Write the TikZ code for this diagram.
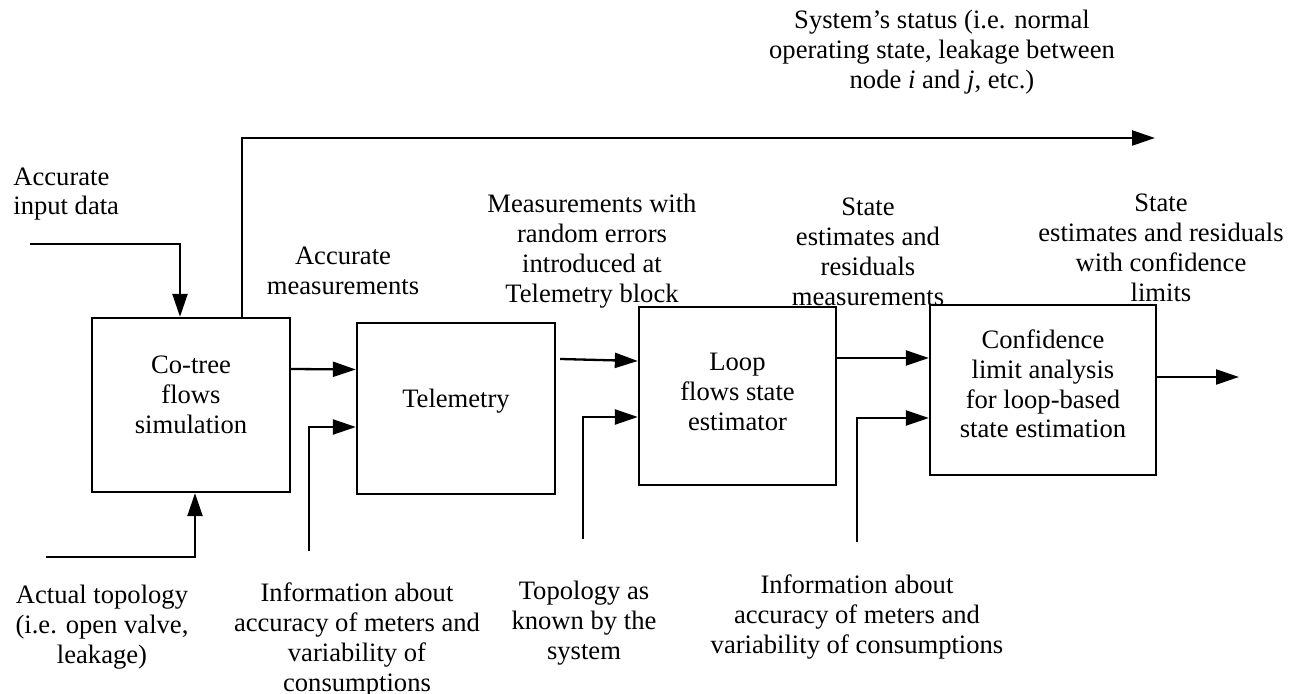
\documentclass[tikz,border=0pt]{standalone}
\usepackage{fontspec}
\setmainfont{Liberation Serif}
\usetikzlibrary{arrows.meta}

\begin{document}
\begin{tikzpicture}[
    x=0.5pt, y=-0.5pt,
    font=\fontsize{13.3}{14.9}\selectfont,
    block/.style={rectangle, draw, line width=1.15pt, inner sep=0pt},
    flow/.style={-{Triangle[length=11.5pt,width=7.5pt]}, line width=1.15pt},
    lbl/.style={align=center, inner sep=0pt}
]
\useasboundingbox (0,0) rectangle (1298,694);

% processing blocks
\node[block, minimum width=99pt, minimum height=87pt] (cotree) at (191,405) {};
\node[block, minimum width=99pt, minimum height=85.5pt] (telemetry) at (456,408.5) {};
\node[block, minimum width=98.5pt, minimum height=89pt] (loop) at (737.5,396) {};
\node[block, minimum width=113pt, minimum height=85pt] (conf) at (1043,390) {};

% block titles, set a little above the middle
\node[lbl] (cotreeText) at ([yshift=5pt]cotree.center) {Co-tree\\flows\\simulation};
\node[lbl] (telemetryText) at ([yshift=3.5pt]telemetry.center) {Telemetry};
\node[lbl] (loopText) at ([yshift=2pt]loop.center) {Loop\\flows state\\estimator};
\node[lbl] (confText) at ([yshift=3pt]conf.center) {Confidence\\limit analysis\\for loop-based\\state estimation};

% free ends of the inputs and outputs
\coordinate (inA) at (30,244);
\coordinate (topoA) at (46,557);
\coordinate (infoA) at (309,551);
\coordinate (topoB) at (583,539);
\coordinate (infoB) at (857,542);
\coordinate (statusEnd) at (1155,138);
\coordinate (outC) at (1239,377);

% labels
\node[lbl, anchor=west, align=left] (lblInput) at (13,194) {Accurate\\input data};
\node[lbl] (lblAccMeas) at (343,271) {Accurate\\measurements};
\node[lbl] (lblRandom) at (592,251) {Measurements with\\random errors\\introduced at\\Telemetry block};
\node[lbl] (lblEst) at (868,252) {State\\estimates and\\residuals\\measurements};
\node[lbl] (lblConfLim) at (1161,248) {State\\estimates and residuals\\with confidence\\limits};
\node[lbl] (lblStatus) at (942,52) {System’s status (i.e. normal\\operating state, leakage between\\node \textit{i} and \textit{j}, etc.)};
\node[lbl] (lblActual) at (102,627) {Actual topology\\(i.e. open valve,\\leakage)};
\node[lbl] (lblInfoA) at (357,640) {Information about\\accuracy of meters and\\variability of\\consumptions};
\node[lbl] (lblKnown) at (584,623) {Topology as\\known by the\\system};
\node[lbl] (lblInfoB) at (857,617) {Information about\\accuracy of meters and\\variability of consumptions};

% connectors
\draw[flow] (inA) -| ([xshift=-5.5pt]cotree.north);
\draw[flow] (topoA) -| ([xshift=2pt]cotree.south);
\draw[flow] ([xshift=25.5pt]cotree.north) |- (statusEnd);
\draw[flow] ([yshift=18pt]cotree.east) -- ([yshift=19.5pt]telemetry.west);
\draw[flow] (infoA) |- ([yshift=-9.25pt]telemetry.west);
\draw[flow] ([xshift=2pt,yshift=24.75pt]telemetry.east) -- ([yshift=17.5pt]loop.west);
\draw[flow] (topoB) |- ([yshift=-10.5pt]loop.west);
\draw[flow] ([yshift=19pt]loop.east) -- ([yshift=16pt]conf.west);
\draw[flow] (infoB) |- ([yshift=-14pt]conf.west);
\draw[flow] ([yshift=6.5pt]conf.east) -- (outC);

\end{tikzpicture}
\end{document}
